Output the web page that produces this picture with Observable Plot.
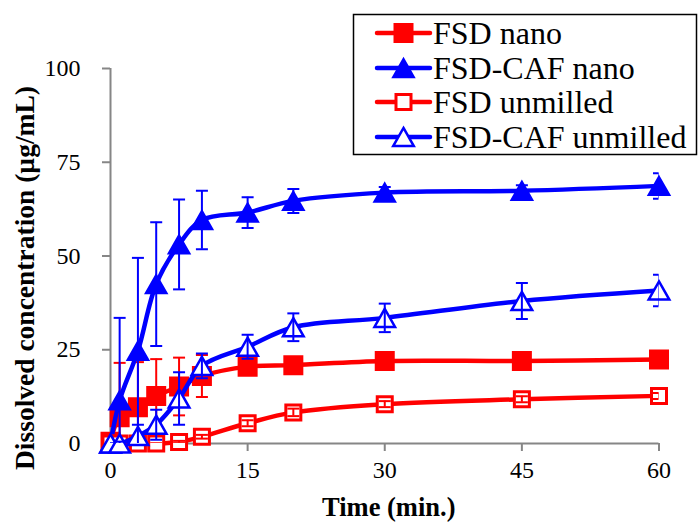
<!DOCTYPE html>
<html><head><meta charset="utf-8">
<script src="https://cdn.jsdelivr.net/npm/d3@7"></script>
<script src="https://cdn.jsdelivr.net/npm/@observablehq/plot@0.6"></script>
<style>
body{margin:0;background:#fff;}
#wrap{position:relative;width:699px;height:525px;}
</style></head><body><div id="wrap"></div>
<script>
// Data
const time = [0, 1, 3, 5, 7.5, 10, 15, 20, 30, 45, 60];
const seriesNames = ["FSD nano", "FSD-CAF nano", "FSD unmilled", "FSD-CAF unmilled"];
const fsdNano        = [0.5, 7.0, 9.7, 12.7, 15.2, 18.0, 20.5, 20.9, 22.0, 22.0, 22.4];
const fsdNanoSd      = [0.5, 14.5, 12.0, 9.8, 7.7, 5.6, 1.5, 1.2, 1.0, 1.0, 1.2];
const fsdCafNano     = [0, 11.5, 24.7, 42.5, 53.1, 59.6, 61.6, 64.7, 66.9, 67.4, 68.7];
const fsdCafNanoSd   = [0, 22.0, 24.8, 16.5, 12.0, 7.8, 4.1, 3.2, 1.5, 1.5, 3.4];
const fsdUnmilled    = [0, 0, 0, 0, 0.4, 1.8, 5.4, 8.3, 10.5, 11.8, 12.7];
const fsdUnmilledSd  = [0, 0, 0, 0, 0.3, 0.5, 0.8, 1.0, 0.8, 0.8, 0.8];
const fsdCafUnm      = [0, 0, 2.0, 5.0, 12.0, 20.7, 25.8, 31.0, 33.5, 38.0, 40.8];
const fsdCafUnmSd    = [0, 0.5, 3.0, 4.0, 7.0, 3.3, 3.2, 3.7, 3.8, 4.8, 4.2];
const xTicks = [0, 15, 30, 45, 60];
const yTicks = [0, 25, 50, 75, 100];
const xTitle = "Time (min.)";
const yTitle = "Dissolved concentration (µg/mL)";

const RED = "#ff0000", BLUE = "#0000ff", GRAY = "#868686";
const FONT = "Liberation Serif, Times New Roman, serif";

const sqSym = {draw(ctx, size){ const r = Math.sqrt(size/Math.PI); ctx.moveTo(-r,-r); ctx.lineTo(r,-r); ctx.lineTo(r,r); ctx.lineTo(-r,r); ctx.closePath(); }};
const triSym = {draw(ctx, size){ const r = Math.sqrt(size/Math.PI); const h = 0.88*r; ctx.moveTo(0,-h); ctx.lineTo(r,h); ctx.lineTo(-r,h); ctx.closePath(); }};
const capSym = {draw(ctx, size){ const r = Math.sqrt(size/Math.PI); ctx.moveTo(-r,0); ctx.lineTo(r,0); }};

const series = [
  {name: seriesNames[0], v: fsdNano, sd: fsdNanoSd, color: RED, sym: sqSym, r: 9, fill: RED, sw: 2},
  {name: seriesNames[1], v: fsdCafNano, sd: fsdCafNanoSd, color: BLUE, sym: triSym, r: 10.5, fill: BLUE, sw: 2},
  {name: seriesNames[2], v: fsdUnmilled, sd: fsdUnmilledSd, color: RED, sym: sqSym, r: 7.5, fill: "white", sw: 3},
  {name: seriesNames[3], v: fsdCafUnm, sd: fsdCafUnmSd, color: BLUE, sym: triSym, r: 10.3, fill: "white", sw: 2.5}
];

const marks = [
  Plot.ruleY([0], {stroke: GRAY, strokeWidth: 2}),
  Plot.ruleX([0], {stroke: GRAY, strokeWidth: 2}),
  Plot.axisX({ticks: xTicks, tickSize: 8, stroke: GRAY, strokeWidth: 2, tickFormat: () => "", label: null}),
  Plot.axisY({ticks: yTicks, tickSize: 8, stroke: GRAY, strokeWidth: 2, tickFormat: () => "", label: null}),
  Plot.text(xTicks, {x: d => d, frameAnchor: "bottom", dy: 27, textAnchor: "middle", lineAnchor: "middle", fontSize: 24, fill: "black", fontFamily: FONT}),
  Plot.text(yTicks, {y: d => d, frameAnchor: "left", dx: -30, textAnchor: "end", lineAnchor: "middle", fontSize: 24, fill: "black", fontFamily: FONT}),
  Plot.text([xTitle], {frameAnchor: "bottom", dx: 4, dy: 64, textAnchor: "middle", lineAnchor: "middle", fontSize: 26.5, fontWeight: "bold", fill: "black", fontFamily: FONT}),
  Plot.text([yTitle], {frameAnchor: "left", rotate: -90, dx: -85, dy: 22, textAnchor: "middle", lineAnchor: "middle", fontSize: 27.5, fontWeight: "bold", fill: "black", fontFamily: FONT})
];

for (const s of series) {
  const rows = time.map((t, i) => ({t, v: s.v[i], lo: s.v[i] - s.sd[i], hi: s.v[i] + s.sd[i]}));
  marks.push(Plot.line(rows, {x: "t", y: "v", stroke: s.color, strokeWidth: 4.5, curve: "catmull-rom"}));
  marks.push(Plot.dot(rows, {x: "t", y: "v", symbol: s.sym, r: s.r, fill: s.fill, stroke: s.color, strokeWidth: s.sw}));
  marks.push(Plot.ruleX(rows, {x: "t", y1: "lo", y2: "hi", stroke: s.color, strokeWidth: 2, clip: true}));
  marks.push(Plot.dot(rows, {x: "t", y: "hi", symbol: capSym, r: 6, stroke: s.color, strokeWidth: 2, clip: true}));
  marks.push(Plot.dot(rows, {x: "t", y: "lo", symbol: capSym, r: 6, stroke: s.color, strokeWidth: 2, clip: true}));
}

const chart = Plot.plot({
  width: 699, height: 525,
  marginLeft: 110, marginRight: 40.5, marginTop: 68, marginBottom: 82,
  x: {domain: [0, 60]},
  y: {domain: [0, 100]},
  style: {fontFamily: FONT, fontSize: "24px", color: "black", background: "white", overflow: "visible"},
  marks
});
const wrap = document.getElementById("wrap");
wrap.appendChild(chart);

// Legend
const leg = d3.select(wrap).append("svg")
  .attr("width", 699).attr("height", 525)
  .style("position", "absolute").style("left", "0px").style("top", "0px")
  .style("pointer-events", "none");
leg.append("rect").attr("x", 353.5).attr("y", 14.5).attr("width", 343).attr("height", 140)
  .attr("fill", "white").attr("stroke", "black").attr("stroke-width", 1.5);
const rowY = [33, 68, 102, 137];
series.forEach((s, i) => {
  const g = leg.append("g").attr("transform", `translate(0,${rowY[i]})`);
  g.append("line").attr("x1", 377).attr("x2", 430).attr("y1", 0).attr("y2", 0)
    .attr("stroke", s.color).attr("stroke-width", 4.5).attr("stroke-linecap", "round");
  g.append("path").attr("transform", "translate(403.5,0)")
    .attr("d", d3.symbol(s.sym, Math.PI * s.r * s.r)())
    .attr("fill", s.fill).attr("stroke", s.color).attr("stroke-width", s.sw);
  g.append("text").attr("x", 433).attr("y", 0).attr("dy", "0.35em")
    .attr("font-family", FONT).attr("font-size", 32).attr("fill", "black")
    .text(s.name);
});
</script>
</body></html>
